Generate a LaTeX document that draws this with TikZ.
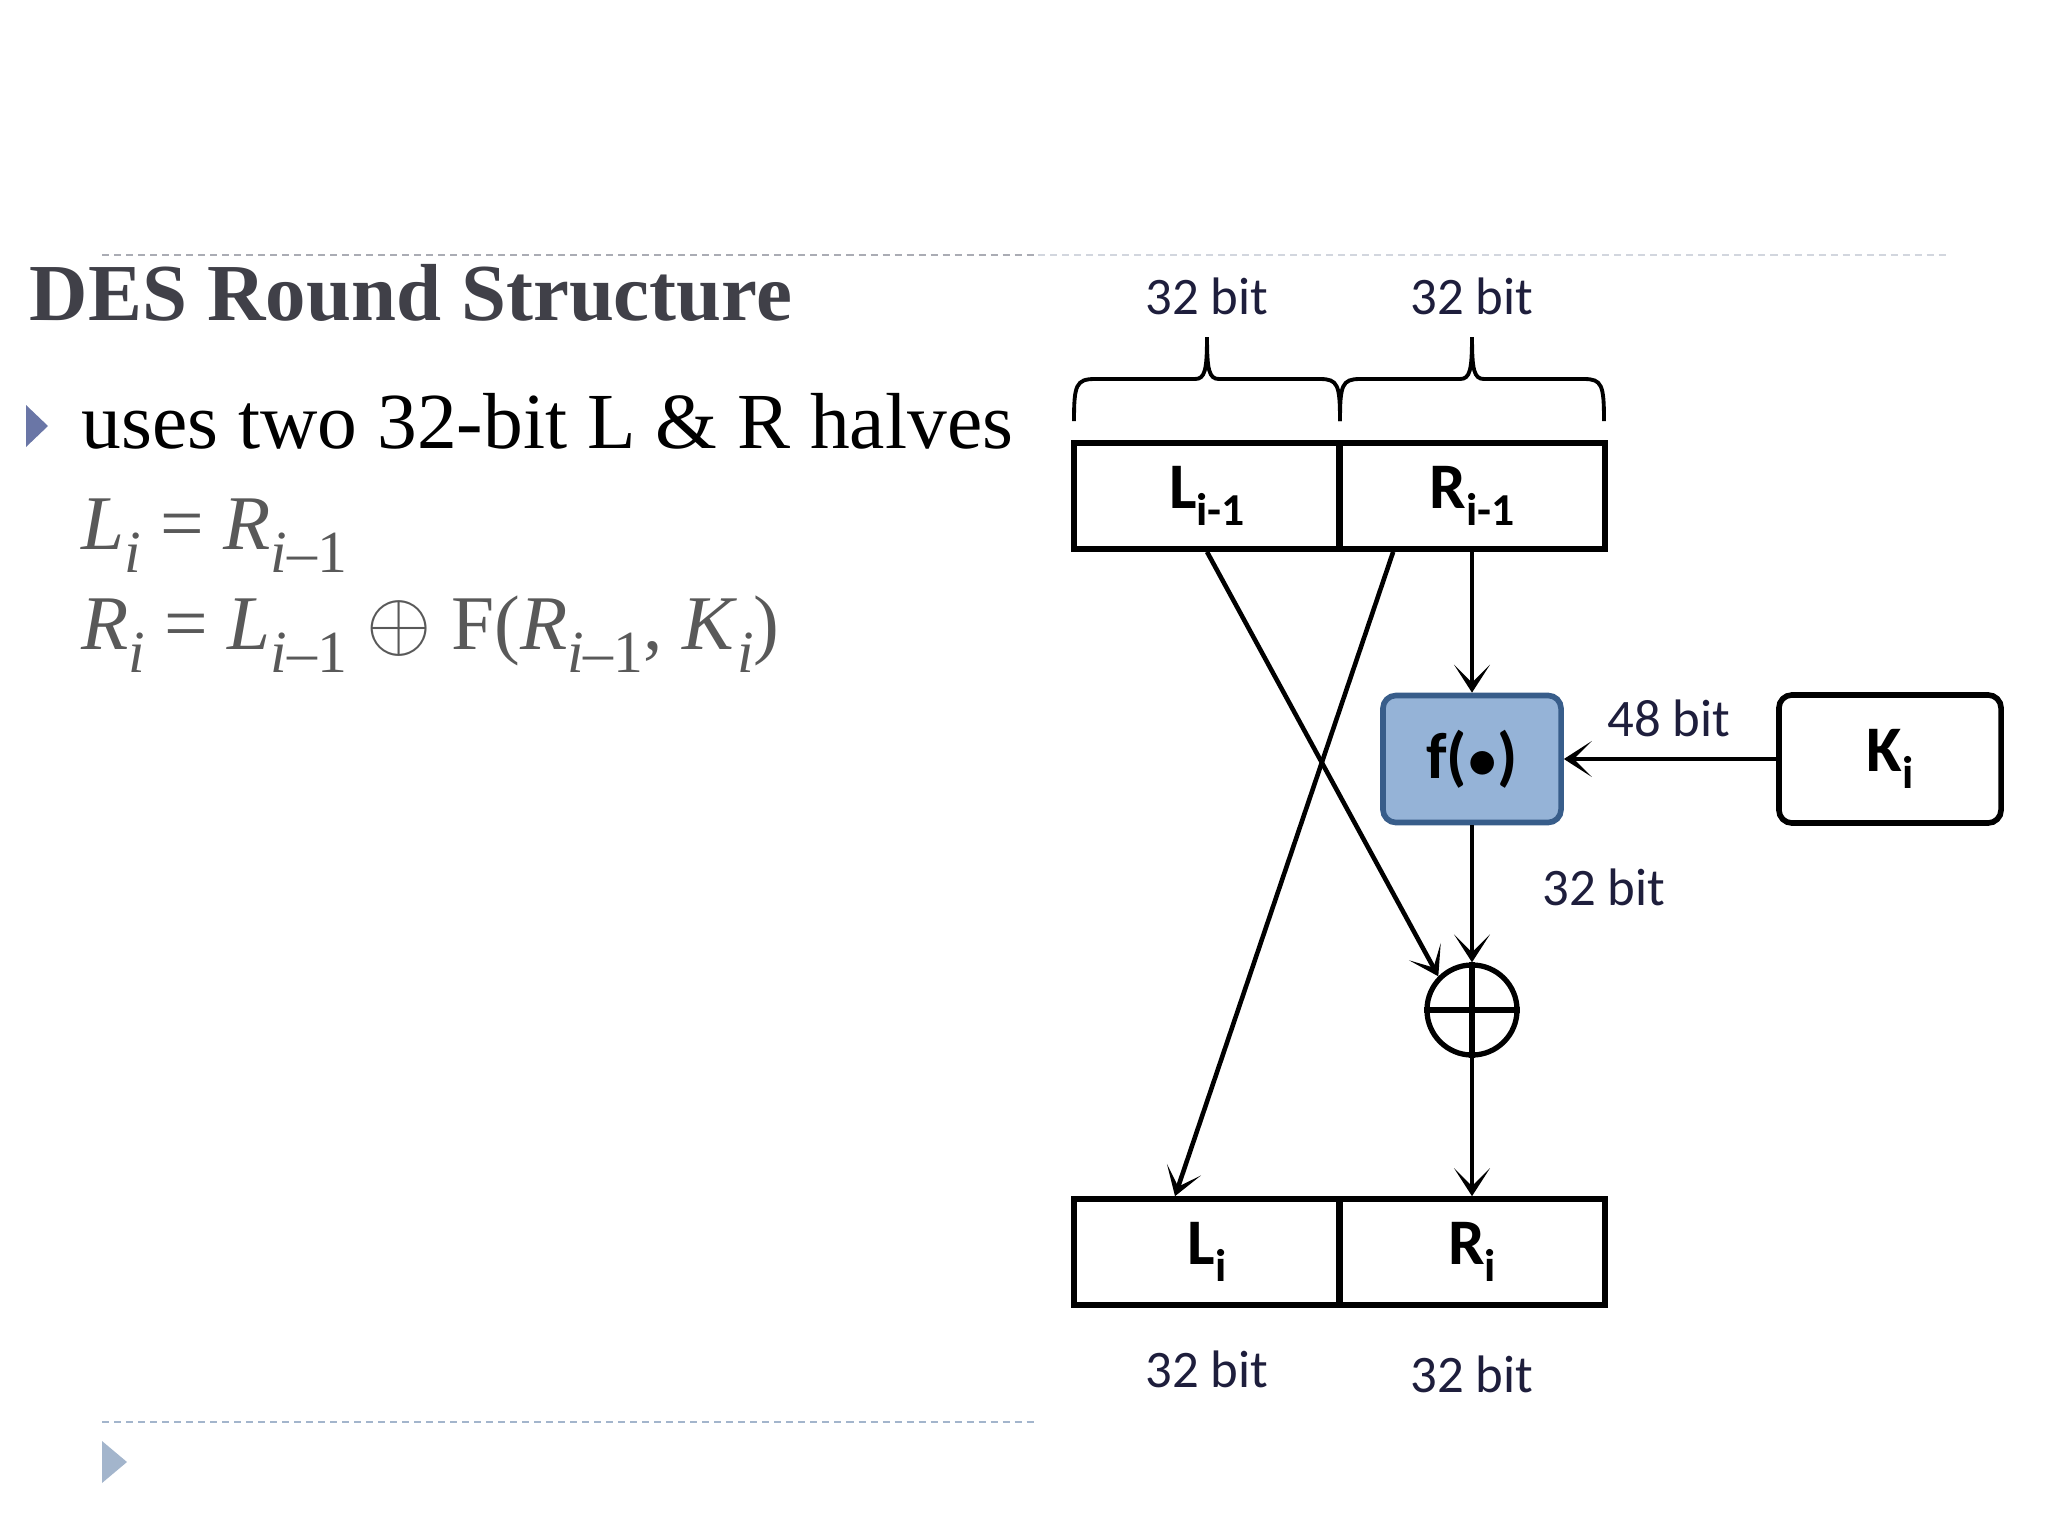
\documentclass[tikz,border=0pt]{standalone}
\usepackage{fontspec}
\setmainfont{Liberation Serif}
\newfontfamily\diagfont{Carlito}
\usetikzlibrary{arrows.meta}
\definecolor{titlegray}{RGB}{64,64,72}
\definecolor{formgray}{RGB}{89,89,89}
\definecolor{bulletblue}{RGB}{106,118,166}
\definecolor{bulletpale}{RGB}{163,181,204}
\definecolor{ffill}{RGB}{149,179,215}
\definecolor{fborder}{RGB}{56,93,138}
\definecolor{bitnavy}{RGB}{30,30,60}
\definecolor{ruledark}{RGB}{170,172,180}
\definecolor{rulelight}{RGB}{210,214,222}
\newcommand{\fsub}[1]{\raisebox{-0.3em}{\fontsize{17}{17}\selectfont #1}}
\newcommand{\bsub}[1]{\raisebox{-5pt}{\fontsize{13}{13}\selectfont\bfseries #1}}
\begin{document}
\begin{tikzpicture}[x=0.01cm,y=-0.01cm,every node/.style={inner sep=0pt},
  halfbox/.style={draw,line width=1.6pt,minimum width=2.66cm,minimum height=1.06cm,font=\diagfont\fontsize{18.5}{18.5}\selectfont\bfseries},
  bitlbl/.style={font=\diagfont\fontsize{15}{15}\selectfont,text=bitnavy},
  sig/.style={line width=1.3pt,-{Stealth[length=2.8mm,width=3.6mm,inset=1.8mm]}},
  brc/.style={line width=1.1pt},
  rule/.style={line width=0.6pt,dash pattern=on 0.07cm off 0.05cm}]
\useasboundingbox (0,0) rectangle (2048,1536);
% slide frame
\draw[rule,ruledark] (102,255) -- (1038,255);
\draw[rule,rulelight] (1038,255) -- (1946,255);
\draw[rule,bulletpale] (102,1422) -- (1038,1422);
\fill[bulletpale] (102,1441) -- (127,1462) -- (102,1483) -- cycle;
% text
\node[anchor=base west,font=\fontsize{23}{23}\selectfont\bfseries,text=titlegray] (title) at (29,320) {DES Round Structure};
\fill[bulletblue] (26,405) -- (48,426) -- (26,447) -- cycle;
\node[anchor=base west,font=\fontsize{22.6}{22.6}\selectfont] (halves) at (81,448) {uses two 32-bit L \& R halves};
\node[anchor=base west,font=\fontsize{22}{22}\selectfont,text=formgray] (eqL) at (81,549)
  {\textit{L}\fsub{\textit{i}} = \textit{R}\fsub{\textit{i}–1}};
\node[anchor=base west,font=\fontsize{22}{22}\selectfont,text=formgray] (eqR) at (81,649)
  {\textit{R}\fsub{\textit{i}} = \textit{L}\fsub{\textit{i}–1} \scalebox{1.15}{$\oplus$} F(\textit{R}\fsub{\textit{i}–1}, \textit{K}\fsub{\textit{i}})};
% round
\node[halfbox] (Lprev) at (1207,496) {L\bsub{i-1}};
\node[halfbox] (Rprev) at (1472,496) {R\bsub{i-1}};
\node[draw=fborder,fill=ffill,line width=1.6pt,rounded corners=0.13cm,minimum width=1.78cm,minimum height=1.27cm,
  font=\diagfont\fontsize{18.5}{18.5}\selectfont\bfseries] (fbox) at (1472,759) {f($\bullet$)};
\node[draw,line width=1.6pt,rounded corners=0.13cm,minimum width=2.22cm,minimum height=1.28cm,
  font=\diagfont\fontsize{18.5}{18.5}\selectfont\bfseries] (Kbox) at (1890,759) {K\bsub{i}};
\node[draw,circle,line width=1.5pt,minimum size=0.9cm] (xor) at (1472,1010) {};
\draw[line width=1.8pt] (xor.north) -- (xor.south) (xor.west) -- (xor.east);
\node[halfbox] (Lnew) at (1207,1252) {L\bsub{i}};
\node[halfbox] (Rnew) at (1472,1252) {R\bsub{i}};
% braces
\draw[brc] (1074,421) .. controls (1074,385) and (1076,379) .. (1095,379) -- (1195,379)
  .. controls (1205,379) and (1207,370) .. (1207,337) .. controls (1207,370) and (1209,379) .. (1219,379)
  -- (1320,379) .. controls (1338,379) and (1340,385) .. (1340,421);
\draw[brc] (1340,421) .. controls (1340,385) and (1342,379) .. (1360,379) -- (1460,379)
  .. controls (1470,379) and (1472,370) .. (1472,337) .. controls (1472,370) and (1474,379) .. (1484,379)
  -- (1584,379) .. controls (1602,379) and (1604,385) .. (1604,421);
% bit widths
\node[bitlbl] (bLprev) at (1207,296) {32 bit};
\node[bitlbl] (bRprev) at (1472,296) {32 bit};
\node[bitlbl] (bK) at (1669,718) {48 bit};
\node[bitlbl] (bF) at (1604,887) {32 bit};
\node[bitlbl] (bLnew) at (1207,1369) {32 bit};
\node[bitlbl] (bRnew) at (1472,1374) {32 bit};
% data flow
\draw[sig] (Rprev.south) -- (fbox.north);
\draw[sig] (Kbox.west) -- (fbox.east);
\draw[sig] (fbox.south) -- (xor.north);
\draw[sig] (xor.south) -- (Rnew.north);
\draw[sig] (Lprev.south) -- (xor.north west);
\draw[sig] ([xshift=0.57cm]Rprev.south west) -- ([xshift=-0.32cm]Lnew.north);
\end{tikzpicture}
\end{document}
